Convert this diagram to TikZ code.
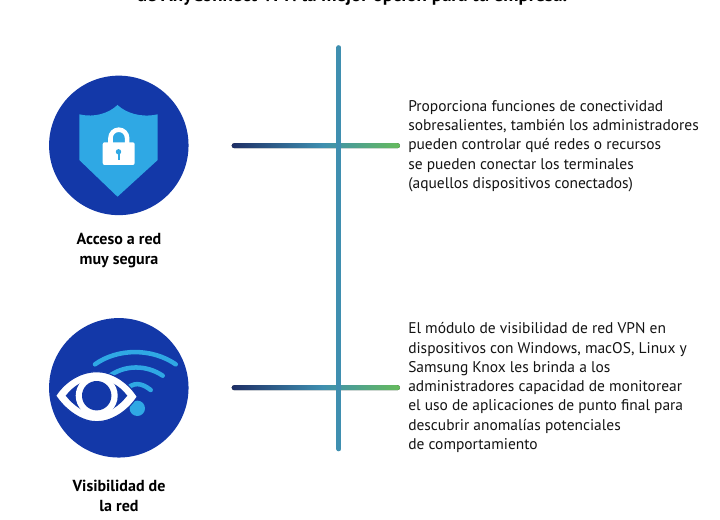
\documentclass[tikz,border=0pt]{standalone}
\usepackage{fontspec}
\setmainfont{PT Sans}
\definecolor{cblue}{HTML}{1338A8}
\definecolor{cvert}{HTML}{3F8FB0}
\definecolor{cdark}{HTML}{1E2F66}
\definecolor{cmid}{HTML}{3E8FB0}
\definecolor{cgreen}{HTML}{66BB5C}
\definecolor{cshield}{HTML}{2FA8E4}
\pgfdeclarehorizontalshading{barshade}{100bp}{color(0bp)=(cdark); color(25bp)=(cdark); color(52bp)=(cmid); color(75bp)=(cgreen); color(100bp)=(cgreen)}
\tikzset{
  px/.style={x=0.75pt,y=-0.75pt},
  bodytxt/.style={anchor=north west,align=left,font=\fontsize{11.6pt}{14.45pt}\selectfont,inner sep=0pt,text=black!92},
  captxt/.style={align=center,font=\bfseries\fontsize{12pt}{15pt}\selectfont,inner sep=0pt},
  disc/.style={circle,fill=cblue,minimum size=104.6pt,inner sep=0pt},
  wifi/.style={draw=cshield,line width=3.4pt,line cap=round},
  hbar/.style={shade,shading=barshade,rounded corners=1.9pt}
}
\begin{document}
\begin{tikzpicture}[px]
\useasboundingbox (0,0) rectangle (720,520);
\fill[white] (0,0) rectangle (720,520);
\clip (0,0) rectangle (720,520);
\node[anchor=base,font=\bfseries\fontsize{14.2pt}{16pt}\selectfont,inner sep=0pt] (title) at (352,2) {de AnyConnect VPN la mejor opción para tu empresa.};
\node[disc] (d1) at (118.8,145.4) {};
\node[disc] (d2) at (118.8,387.8) {};
\node[captxt] (c1) at (119,250.5) {Acceso a red\\muy segura};
\node[captxt] (c2) at (119,496) {Visibilidad de\\la red};
\node[bodytxt] (t1) at (408,100) {Proporciona funciones de conectividad\\sobresalientes, también los administradores\\pueden controlar qué redes o recursos\\se pueden conectar los terminales\\(aquellos dispositivos conectados)};
\node[bodytxt] (t2) at (408,322.5) {El módulo de visibilidad de red VPN en\\dispositivos con Windows, macOS, Linux y\\Samsung Knox les brinda a los\\administradores capacidad de monitorear\\el uso de aplicaciones de punto final para\\descubrir anomalías potenciales\\de comportamiento};
% horizontal gradient bars
\fill[hbar] (231.7,143.2) rectangle (400,148.2);
\fill[hbar] (231.7,385.2) rectangle (400,390.2);
% vertical
\coordinate (v1) at (338.8,47.5);
\coordinate (v2) at (338.8,449);
\draw[cvert,line width=3.5pt,line cap=round] (v1) -- (v2);
% shield
\fill[cshield] (117.5,105) .. controls (109,113) and (95,118) .. (79.3,114.3) -- (79.3,160)
  -- (117.5,196.7) -- (157.7,160) -- (157.7,114.3) .. controls (141,118) and (126,113) .. (117.5,105) -- cycle;
% lock
\draw[white,line width=3.4pt] (110.5,145) -- (110.5,138) arc[start angle=180,end angle=360,radius=8.3] -- (127.1,145);
\fill[white,rounded corners=1.5pt] (102.7,142.3) rectangle (134.7,165);
\fill[cshield] (118.5,151.8) circle[radius=2.7];
\fill[cshield] (117.5,152) rectangle (119.5,160);
% wifi
\fill[cshield] (137.3,408.3) circle[radius=7.7];
\draw[wifi] (95,364.3) .. controls (118,348) and (152,348) .. (175.7,364.3);
\draw[wifi] (108,377) .. controls (125,364) and (147,365) .. (162.7,375.7);
\draw[wifi] (125,391) .. controls (133,381) and (142,383) .. (150.7,390);
% eye
\fill[white,draw=cblue,line width=0.8pt] (55.7,395.7) .. controls (66,380) and (82,371.7) .. (96.7,371.7) .. controls (112,371.7) and (128,382) .. (137.3,396.7) .. controls (128,411) and (112,421.7) .. (96.7,421.7) .. controls (82,421.7) and (66,411) .. (55.7,395.7) -- cycle;
\fill[cblue] (65.7,395.7) .. controls (74,385) and (85,379) .. (96.7,379) .. controls (108,379) and (119,385) .. (127.3,395.7) .. controls (119,406) and (108,414) .. (96.7,414) .. controls (85,414) and (74,406) .. (65.7,395.7) -- cycle;
\fill[white] (96.7,395.7) circle[radius=21];
\fill[cblue] (96.7,395.7) circle[radius=14.7];
\end{tikzpicture}
\end{document}
